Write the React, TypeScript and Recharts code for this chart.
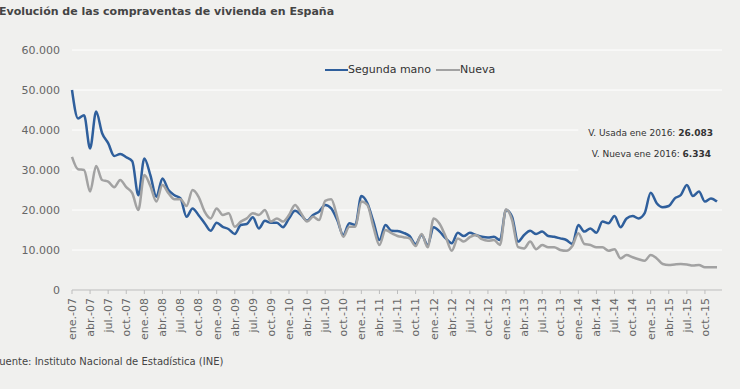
import React from 'react';
import { LineChart, Line, XAxis, YAxis, CartesianGrid, ReferenceLine } from 'recharts';

const MONTHS = ['ene.', 'feb.', 'mar.', 'abr.', 'may.', 'jun.', 'jul.', 'ago.', 'sep.', 'oct.', 'nov.', 'dic.'];
const YEARS = ['07', '08', '09', '10', '11', '12', '13', '14', '15'];

// Segunda mano (vivienda usada), ene-07 .. dic-15
const SEGUNDA_MANO = [
  50000, 42900, 43700, 35400, 44600, 39200, 36700, 33500, 34000, 33200, 32200, 23700,
  32900, 28700, 23300, 27900, 25000, 23700, 22900, 18300, 20400, 18700, 16700, 14800,
  16800, 15800, 15200, 14000, 16250, 16500, 18200, 15400, 17300, 16800, 16800, 15700,
  17900, 19800, 18750, 17300, 18750, 19600, 21250, 20400, 17500, 13750, 16700, 16250,
  23500, 21700, 17100, 12500, 16250, 14800, 14750, 14300, 13500, 11500, 13750, 11250,
  15700, 14600, 12900, 11700, 14300, 13500, 14300, 13750, 13300, 13100, 13300, 12500,
  20000, 18300, 12100, 13750, 14800, 14000, 14600, 13500, 13300, 12900, 12500, 11500,
  16250, 14600, 15400, 14300, 17100, 16700, 18500, 15700, 17900, 18500, 17900, 19200,
  24300, 21700, 20700, 21000, 22900, 23750, 26250, 23500, 24600, 22100, 22900, 22100,
];

// Nueva, ene-07 .. dic-15
const NUEVA = [
  33300, 30200, 30000, 24600, 31000, 27500, 27100, 25700, 27500, 25700, 24200, 20000,
  28750, 26000, 22100, 26250, 24200, 22700, 22700, 21000, 25000, 23300, 19600, 17900,
  20400, 18750, 19200, 15800, 17100, 17900, 19200, 18750, 20000, 17100, 17900, 17100,
  18750, 21250, 19200, 17100, 18300, 17500, 22300, 22700, 18300, 13300, 15800, 15800,
  22100, 21250, 15800, 11250, 15000, 14200, 13500, 13200, 12900, 11000, 14000, 10700,
  17900, 16500, 13300, 9800, 12900, 12100, 13200, 13750, 12700, 12300, 12500, 11250,
  20200, 17500, 10700, 10400, 12100, 10200, 11250, 10700, 10700, 10000, 9800, 11000,
  14200, 11500, 11250, 10700, 10700, 9800, 10200, 7900, 8750, 8200, 7700, 7300,
  8750, 7900, 6500, 6250, 6400, 6500, 6400, 6100, 6250, 5700, 5700, 5700,
];

const Y_TICKS = [0, 10000, 20000, 30000, 40000, 50000, 60000];
// gridlines running the full width; the 30.000 and 40.000 ones stop at the note box
const FULL_GRID = [10000, 20000, 50000, 60000];
const SHORT_GRID = [30000, 40000];

const data = SEGUNDA_MANO.map((v, i) => ({
  label: `${MONTHS[i % 12]}-${YEARS[Math.floor(i / 12)]}`,
  segunda: v,
  nueva: NUEVA[i],
}));

const BG = '#f0f0ee';
const BLUE = '#2f5f9c';
const GREY = '#a2a2a2';
const FONT = '"DejaVu Sans", Verdana, sans-serif';

const fmt = (v: number) => v.toLocaleString('de-DE');

const XTick = (props: any) => {
  const { x, y, payload } = props;
  return (
    <text
      x={x}
      y={y + 2}
      transform={`rotate(-90 ${x} ${y + 2})`}
      textAnchor="end"
      dy="0.35em"
      fontSize={11}
      fill="#666"
      fontFamily={FONT}
    >
      {payload.value}
    </text>
  );
};

export default function App() {
  return (
    <div
      style={{
        position: 'absolute',
        left: 0,
        top: 0,
        width: 740,
        height: 389,
        background: BG,
        overflow: 'hidden',
        fontFamily: FONT,
      }}
    >
      <div style={{ position: 'absolute', left: -1, top: 5, fontSize: 11, fontWeight: 'bold', color: '#444' }}>
        Evolución de las compraventas de vivienda en España
      </div>

      <LineChart
        width={740}
        height={389}
        data={data}
        margin={{ top: 50, right: 18, bottom: 0, left: 0 }}
        style={{ position: 'absolute', left: 0, top: 0 }}
      >
        <CartesianGrid vertical={false} horizontalValues={FULL_GRID} stroke="#ffffff" strokeWidth={1} />
        {SHORT_GRID.map((v) => (
          <ReferenceLine
            key={v}
            segment={[{ x: data[0].label, y: v }, { x: data[84].label, y: v }]}
            stroke="#ffffff"
            strokeWidth={1}
            ifOverflow="visible"
          />
        ))}
        <XAxis
          dataKey="label"
          interval={2}
          height={99}
          padding={{ left: 0, right: 5 }}
          tick={<XTick />}
          tickSize={4}
          stroke="#bdbdbd"
        />
        <YAxis
          width={72}
          domain={[0, 60000]}
          ticks={Y_TICKS}
          tickFormatter={fmt}
          axisLine={false}
          tickLine={false}
          tickMargin={6}
          tick={{ fontSize: 11, fill: '#666', fontFamily: FONT }}
        />
        <Line
          type="monotone"
          dataKey="segunda"
          stroke={BLUE}
          strokeWidth={2.5}
          dot={false}
          isAnimationActive={false}
        />
        <Line
          type="monotone"
          dataKey="nueva"
          stroke={GREY}
          strokeWidth={2.5}
          dot={false}
          isAnimationActive={false}
        />
      </LineChart>

      {/* legend */}
      <div
        style={{
          position: 'absolute',
          left: 325,
          top: 63,
          display: 'flex',
          alignItems: 'center',
          fontSize: 11,
          color: '#333',
        }}
      >
        <span style={{ display: 'inline-block', width: 23, height: 2, background: BLUE }} />
        <span style={{ marginRight: 5 }}>Segunda mano</span>
        <span style={{ display: 'inline-block', width: 24, height: 2, background: GREY }} />
        <span>Nueva</span>
      </div>

      {/* notes */}
      <div style={{ position: 'absolute', right: 27, top: 128, fontSize: 9, color: '#333' }}>
        V. Usada ene 2016: <b>26.083</b>
      </div>
      <div style={{ position: 'absolute', right: 29, top: 149, fontSize: 9, color: '#333' }}>
        V. Nueva ene 2016: <b>6.334</b>
      </div>

      <div style={{ position: 'absolute', left: -6, top: 356, fontSize: 10, color: '#444' }}>
        Fuente: Instituto Nacional de Estadística (INE)
      </div>
    </div>
  );
}
